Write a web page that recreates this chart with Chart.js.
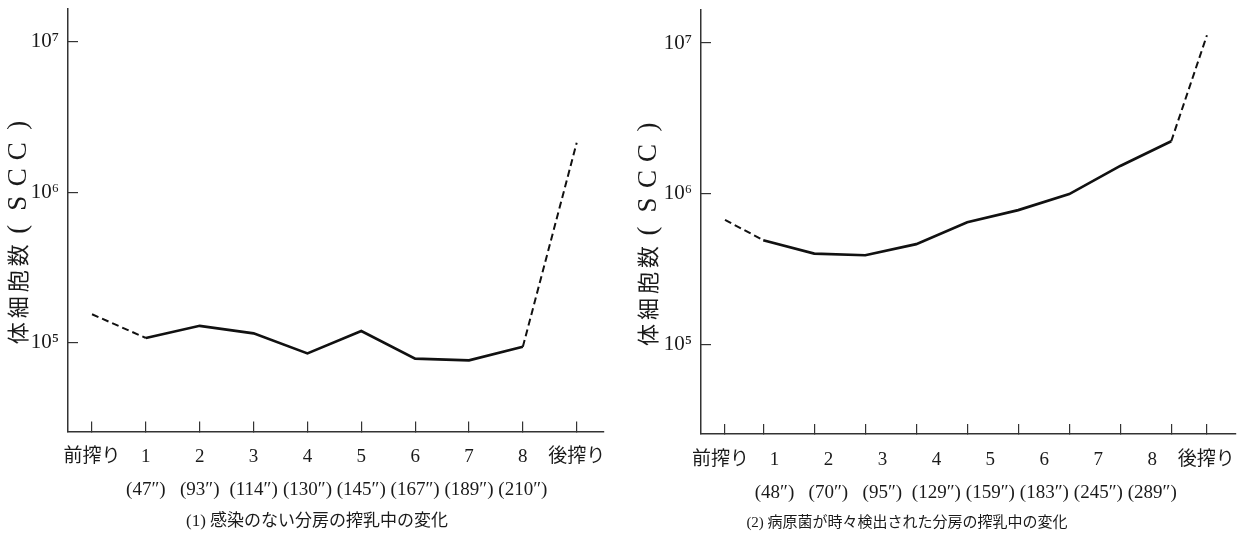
<!DOCTYPE html>
<html><head><meta charset="utf-8">
<script src="https://cdn.jsdelivr.net/npm/chart.js@4/dist/chart.umd.min.js"></script>
<style>
html,body{margin:0;padding:0;background:#fff;width:1252px;height:537px;overflow:hidden;}
canvas{position:absolute;top:0;}
#c1{left:0;}
#c2{left:578px;}
</style></head><body>
<canvas id="c1" width="640" height="537"></canvas>
<canvas id="c2" width="674" height="537"></canvas>
<script>
// ---- data ----
const yAxisTitle = '体細胞数(SCC)';
const decadeTicks = [1e5, 1e6, 1e7];
const decadeLabels = ['10⁵', '10⁶', '10⁷'];

const cats1 = ['前搾り', '1', '2', '3', '4', '5', '6', '7', '8', '後搾り'];
const times1 = ['', '(47″)', '(93″)', '(114″)', '(130″)', '(145″)', '(167″)', '(189″)', '(210″)', ''];
const scc1 = [154000, 107000, 129000, 115000, 84500, 119000, 78000, 76000, 93500, 2130000];
const title1 = '(1) 感染のない分房の搾乳中の変化';

const cats2 = ['前搾り', '1', '2', '3', '4', '5', '6', '7', '8', '後搾り'];
const times2 = ['', '(48″)', '(70″)', '(95″)', '(129″)', '(159″)', '(183″)', '(245″)', '(289″)', ''];
const samplePos2 = [0, 0.75, 1.75, 2.75, 3.75, 4.75, 5.75, 6.75, 7.75, 8.75, 9.45];
const scc2 = [671000, 492000, 401000, 391000, 463000, 648000, 779000, 995000, 1530000, 2230000, 11250000];
const title2 = '(2) 病原菌が時々検出された分房の搾乳中の変化';

// ---- styling ----
const FAM = '"Liberation Serif", "Noto Sans CJK JP", serif';
const TXT = '#1a1a1a';
const AX = '#333';

function lineStyle(n) {
  const dashed = ctx => ctx.p0DataIndex === 0 || ctx.p1DataIndex === n - 1;
  return {
    borderColor: '#111', borderWidth: 2.7, pointRadius: 0, tension: 0, fill: false,
    segment: {
      borderDash: ctx => dashed(ctx) ? [7, 4] : undefined,
      borderWidth: ctx => dashed(ctx) ? 2 : undefined
    }
  };
}

// vertical axis title drawn with full-width style spacing (one cell per character)
function drawSpacedTitle(scale, offX, dy) {
  const o = scale.options.title;
  if (!o.display) return;
  const c = scale.ctx;
  const chars = Array.from(o.text);
  const pitch = 26;
  const total = pitch * chars.length;
  const cx = scale.left + offX;
  const cy = (scale.top + scale.bottom) / 2 + dy;
  c.save();
  c.translate(cx, cy);
  c.rotate(-Math.PI / 2);
  c.fillStyle = o.color;
  c.textAlign = 'center';
  c.textBaseline = 'middle';
  chars.forEach((ch, i) => {
    const cjk = /[\u3000-\u9fff\uff00-\uffef]/.test(ch);
    c.font = cjk ? '22px "Noto Sans CJK JP"' : '27px "Liberation Serif"';
    c.fillText(ch, -total / 2 + pitch * (i + 0.5), cjk ? 0 : 1);
  });
  c.restore();
}

function yScale(width, offX, dy) {
  return {
    type: 'logarithmic', min: 25500, max: 16550000,
    afterBuildTicks: s => { s.ticks = decadeTicks.map(v => ({ value: v })); },
    afterFit: s => {
      s.width = width; s.paddingTop = 0; s.paddingBottom = 0;
      if (!s._titlePatched) {
        s.drawTitle = function () { drawSpacedTitle(this, offX, dy); };
        s._titlePatched = true;
      }
    },
    ticks: { autoSkip: false, padding: 19, color: TXT, font: { family: FAM, size: 21 },
             callback: (v, i) => decadeLabels[i] },
    grid: { drawOnChartArea: false, tickLength: -10, color: AX, lineWidth: 1.2 },
    border: { display: true, color: AX, width: 1.5 },
    title: { display: true, text: yAxisTitle, color: TXT,
             font: { family: FAM, size: 22, lineHeight: 1.2 }, padding: { top: 0, bottom: 0 } }
  };
}

function titleOpt(text, size) {
  return { display: true, position: 'bottom', text: text, color: TXT,
           font: { family: FAM, size: size, weight: 'normal', lineHeight: 1.2 },
           padding: { top: 0, bottom: 5 } };
}

const tickFont = { family: FAM, size: 19, lineHeight: 1.74 };

// ---- chart 1 ----
new Chart(document.getElementById('c1'), {
  type: 'line',
  data: { datasets: [Object.assign({ data: scc1.map((v, i) => ({ x: i, y: v })) }, lineStyle(scc1.length))] },
  options: {
    responsive: false, animation: false, devicePixelRatio: 1,
    layout: { padding: { left: 30, right: 36, top: 9, bottom: 0 } },
    plugins: { legend: { display: false }, tooltip: { enabled: false }, title: titleOpt(title1, 17) },
    scales: {
      x: {
        type: 'linear', min: -0.446, max: 9.507,
        afterBuildTicks: s => { s.ticks = cats1.map((c, i) => ({ value: i })); },
        afterFit: s => { s.height = 80; s.paddingLeft = 0; s.paddingRight = 0; },
        ticks: { autoSkip: false, maxRotation: 0, padding: 19, color: TXT, font: tickFont,
                 callback: (v, i) => [cats1[i], times1[i]] },
        grid: { drawOnChartArea: false, tickLength: -10, color: AX, lineWidth: 1.2 },
        border: { display: true, color: AX, width: 1.5 }
      },
      y: yScale(38, -12, 9)
    }
  }
});

// ---- chart 2 ----
new Chart(document.getElementById('c2'), {
  type: 'line',
  data: { datasets: [Object.assign({ xAxisID: 'xs', yAxisID: 'y',
          data: scc2.map((v, i) => ({ x: samplePos2[i], y: v })) }, lineStyle(scc2.length))] },
  options: {
    responsive: false, animation: false, devicePixelRatio: 1,
    layout: { padding: { left: 0, right: 16, top: 10, bottom: 0 } },
    plugins: { legend: { display: false }, tooltip: { enabled: false }, title: titleOpt(title2, 15) },
    scales: {
      xs: {
        type: 'linear', position: 'bottom', weight: 0, min: -0.4706, max: 10.02,
        afterBuildTicks: s => { s.ticks = samplePos2.map(v => ({ value: v })); },
        afterFit: s => { s.height = 0; s.paddingLeft = 0; s.paddingRight = 0; },
        ticks: { display: false },
        grid: { drawOnChartArea: false, tickLength: -10, color: AX, lineWidth: 1.2 },
        border: { display: true, color: AX, width: 1.5 }
      },
      xl: {
        type: 'linear', position: 'bottom', weight: 1, min: -0.36, max: 9.55,
        afterBuildTicks: s => { s.ticks = cats2.map((c, i) => ({ value: i })); },
        afterFit: s => { s.height = 80; s.paddingLeft = 0; s.paddingRight = 0; },
        ticks: { autoSkip: false, maxRotation: 0, padding: 9, color: TXT, font: tickFont,
                 callback: (v, i) => [cats2[i], times2[i]] },
        grid: { display: false, drawTicks: false },
        border: { display: false }
      },
      y: yScale(123, 70, 9)
    }
  }
});
</script>
</body></html>
